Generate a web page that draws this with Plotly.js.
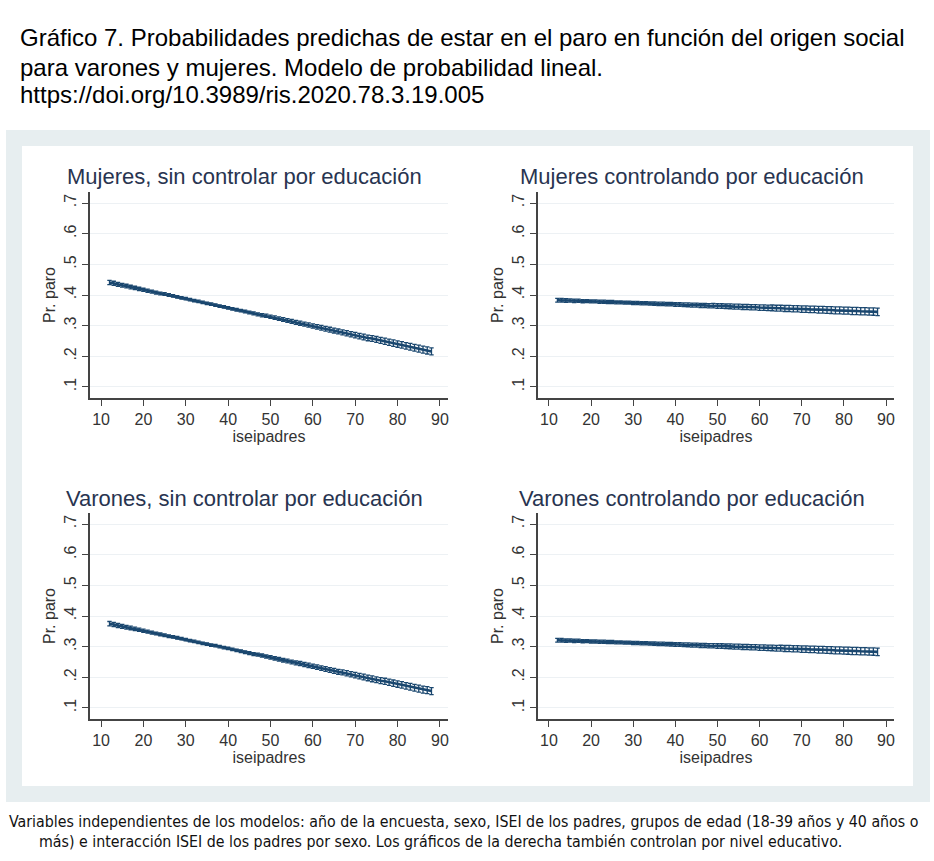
<!DOCTYPE html>
<html>
<head>
<meta charset="utf-8">
<script src="https://cdn.plot.ly/plotly-3.0.1.min.js"></script>
<style>
  body { margin: 0; background: #fff; }
  #plot { width: 934px; height: 861px; }
</style>
</head>
<body>
<div id="plot"></div>
<script>
// iseipadres values where margins were computed
var iseipadres = [12, 13, 14, 15, 16, 17, 18, 19, 20, 21, 22, 23, 24, 25, 26, 27, 28, 29, 30, 31,
  32, 33, 34, 35, 36, 37, 38, 39, 40, 41, 42, 43, 44, 45, 46, 47, 48, 49, 50, 51,
  52, 53, 54, 55, 56, 57, 58, 59, 60, 61, 62, 63, 64, 65, 66, 67, 68, 69, 70, 71,
  72, 73, 74, 75, 76, 77, 78, 79, 80, 81, 82, 83, 84, 85, 86, 87, 88];

// predicted Pr(paro)
var mujeresSin = [.441, .438, .435, .432, .429, .426, .423, .420, .417, .414, .411, .408, .405, .403, .400, .397, .394, .391, .388, .385,
  .382, .379, .376, .373, .370, .367, .364, .361, .358, .355, .352, .349, .346, .343, .340, .337, .334, .332, .329, .326,
  .323, .320, .317, .314, .311, .308, .305, .302, .299, .296, .293, .290, .287, .284, .281, .278, .275, .272, .269, .266,
  .263, .260, .258, .255, .252, .249, .246, .243, .240, .237, .234, .231, .228, .225, .222, .219, .216];
var mujeresCon = [.383, .383, .382, .382, .381, .381, .380, .380, .379, .379, .378, .378, .377, .377, .376, .376, .375, .375, .374, .374,
  .373, .373, .372, .372, .371, .371, .370, .370, .369, .369, .368, .368, .367, .367, .366, .366, .365, .365, .364, .364,
  .363, .363, .362, .362, .361, .361, .360, .360, .359, .359, .358, .358, .357, .357, .356, .356, .355, .355, .354, .354,
  .353, .353, .352, .352, .351, .351, .350, .350, .349, .349, .348, .348, .347, .347, .346, .346, .345];
var varonesSin = [.375, .372, .369, .366, .363, .361, .358, .355, .352, .349, .346, .343, .340, .337, .334, .332, .329, .326, .323, .320,
  .317, .314, .311, .308, .305, .303, .300, .297, .294, .291, .288, .285, .282, .279, .276, .274, .271, .268, .265, .262,
  .259, .256, .253, .250, .247, .245, .242, .239, .236, .233, .230, .227, .224, .221, .218, .216, .213, .210, .207, .204,
  .201, .198, .195, .192, .189, .187, .184, .181, .178, .175, .172, .169, .166, .163, .160, .158, .155];
var varonesCon = [.321, .321, .320, .320, .319, .319, .318, .318, .317, .317, .316, .316, .315, .315, .314, .314, .313, .313, .312, .312,
  .311, .311, .310, .310, .309, .309, .308, .308, .307, .307, .306, .306, .305, .305, .304, .304, .303, .303, .302, .302,
  .301, .301, .300, .300, .299, .299, .298, .298, .297, .297, .296, .296, .295, .295, .294, .294, .293, .293, .292, .292,
  .291, .291, .290, .290, .289, .289, .288, .288, .287, .287, .286, .286, .285, .285, .284, .284, .283];

// half width of the confidence intervals
var ciSin = [.007, .0068, .0065, .0062, .006, .0058, .0055, .0053, .005, .005, .0048, .0047, .0045, .0045, .0043, .0042, .0041, .004, .004, .004,
  .004, .004, .004, .004, .004, .004, .004, .004, .004, .0041, .0042, .0043, .0045, .0046, .0048, .005, .0051, .0053, .0055, .0056,
  .0058, .006, .0061, .0063, .0065, .0066, .0068, .007, .0071, .0073, .0075, .0076, .0078, .008, .0081, .0083, .0085, .0086, .0088, .009,
  .0091, .0093, .0095, .0096, .0098, .01, .0101, .0103, .0105, .0106, .0108, .011, .0111, .0113, .0114, .0115, .0116];
var ciCon = [.006, .0058, .0057, .0055, .0054, .0053, .0052, .0051, .005, .005, .005, .005, .005, .005, .005, .005, .005, .005, .005, .005,
  .0051, .0052, .0053, .0054, .0055, .0056, .0057, .0058, .0059, .006, .0062, .0063, .0065, .0066, .0068, .0069, .0071, .0072, .0074, .0075,
  .0077, .0078, .008, .0081, .0083, .0084, .0086, .0087, .0089, .009, .0092, .0093, .0095, .0096, .0098, .0099, .0101, .0102, .0104, .0105,
  .0107, .0108, .011, .0111, .0112, .0113, .0114, .0115, .0116, .0117, .0117, .0118, .0118, .0119, .0119, .012, .012];

var panelTitles = ['Mujeres, sin controlar por educación', 'Mujeres controlando por educación',
  'Varones, sin controlar por educación', 'Varones controlando por educación'];
var yTickVals = [.1, .2, .3, .4, .5, .6, .7];
var yTickText = ['.1', '.2', '.3', '.4', '.5', '.6', '.7'];
var xTickVals = [10, 20, 30, 40, 50, 60, 70, 80, 90];

var W = 934, H = 861;
function px(x) { return x / W; }
function py(y) { return 1 - y / H; }

var navy = '#1a476f';
var series = [[mujeresSin, ciSin], [mujeresCon, ciCon], [varonesSin, ciSin], [varonesCon, ciCon]];

var data = [];
series.forEach(function(s, i) {
  var n = i + 1;
  data.push({
    x: iseipadres, y: s[0],
    xaxis: 'x' + (n == 1 ? '' : n), yaxis: 'y' + (n == 1 ? '' : n),
    type: 'scatter', mode: 'lines',
    line: {color: navy, width: 2.6},
    error_y: {type: 'data', array: s[1], visible: true, color: navy, thickness: 1.3, width: 2.2},
    hoverinfo: 'x+y', showlegend: false
  });
});

// pixel boxes of each plot area: [left, right, top, bottom]
var boxes = [[90, 448, 192, 398], [538, 894, 192, 398], [90, 448, 513, 719], [538, 894, 513, 719]];

var titleFont = 'Liberation Sans, Arial, sans-serif';
var noteFont = 'DejaVu Sans Condensed, Liberation Sans Narrow, sans-serif';

var layout = {
  width: W, height: H,
  margin: {l: 0, r: 0, t: 0, b: 0},
  paper_bgcolor: '#fff',
  plot_bgcolor: '#fff',
  font: {family: titleFont, color: '#333'},
  shapes: [
    {type: 'rect', xref: 'paper', yref: 'paper', x0: px(6), x1: px(930), y0: py(802), y1: py(130),
      fillcolor: '#e7eef0', line: {width: 0}, layer: 'below'},
    {type: 'rect', xref: 'paper', yref: 'paper', x0: px(22), x1: px(913), y0: py(786), y1: py(146),
      fillcolor: '#ffffff', line: {width: 0}, layer: 'below'}
  ],
  annotations: [
    {text: 'Gráfico 7. Probabilidades predichas de estar en el paro en función del origen social',
      xref: 'paper', yref: 'paper', x: px(18), y: py(38), xanchor: 'left', yanchor: 'middle', showarrow: false,
      font: {size: 24, color: '#000', family: titleFont}},
    {text: 'para varones y mujeres. Modelo de probabilidad lineal.',
      xref: 'paper', yref: 'paper', x: px(18), y: py(67), xanchor: 'left', yanchor: 'middle', showarrow: false,
      font: {size: 24, color: '#000', family: titleFont}},
    {text: 'https://doi.org/10.3989/ris.2020.78.3.19.005',
      xref: 'paper', yref: 'paper', x: px(18), y: py(95), xanchor: 'left', yanchor: 'middle', showarrow: false,
      font: {size: 24, color: '#000', family: titleFont}},
    {text: 'Variables independientes de los modelos: año de la encuesta, sexo, ISEI de los padres, grupos de edad (18-39 años y 40 años o',
      xref: 'paper', yref: 'paper', x: px(7), y: py(821), xanchor: 'left', yanchor: 'middle', showarrow: false,
      font: {size: 15.8, color: '#111', family: noteFont}},
    {text: 'más) e interacción ISEI de los padres por sexo. Los gráficos de la derecha también controlan por nivel educativo.',
      xref: 'paper', yref: 'paper', x: px(37), y: py(841), xanchor: 'left', yanchor: 'middle', showarrow: false,
      font: {size: 15.8, color: '#111', family: noteFont}}
  ]
};

boxes.forEach(function(b, i) {
  var n = i + 1;
  var sfx = n == 1 ? '' : n;
  layout['xaxis' + sfx] = {
    domain: [px(b[0]), px(b[1])], anchor: 'y' + sfx,
    range: [7.4, 91.9], tickvals: xTickVals,
    showline: true, linecolor: '#444', linewidth: 2,
    ticks: 'outside', ticklen: 6, tickcolor: '#444',
    showgrid: false, zeroline: false,
    tickfont: {size: 16, color: '#333'},
    title: {text: 'iseipadres', font: {size: 16, color: '#333'}, standoff: 0}
  };
  layout['yaxis' + sfx] = {
    domain: [py(b[3]), py(b[2])], anchor: 'x' + sfx,
    range: [0.064, 0.736], tickvals: yTickVals, ticktext: yTickText,
    tickangle: -90,
    showline: true, linecolor: '#444', linewidth: 2,
    ticks: 'outside', ticklen: 6, tickcolor: '#444',
    showgrid: true, gridcolor: '#edf1f4', gridwidth: 1, zeroline: false,
    tickfont: {size: 16, color: '#333'},
    title: {text: 'Pr. paro', font: {size: 16, color: '#333'}, standoff: 2}
  };
  layout.annotations.push({
    text: panelTitles[i], xref: 'paper', yref: 'paper',
    x: px((b[0] + b[1]) / 2 - 24), y: py(b[2] - 15), xanchor: 'center', yanchor: 'middle',
    showarrow: false, font: {size: 22, color: '#283450', family: titleFont}
  });
});

Plotly.newPlot('plot', data, layout, {displayModeBar: false, staticPlot: true});
</script>
</body>
</html>
